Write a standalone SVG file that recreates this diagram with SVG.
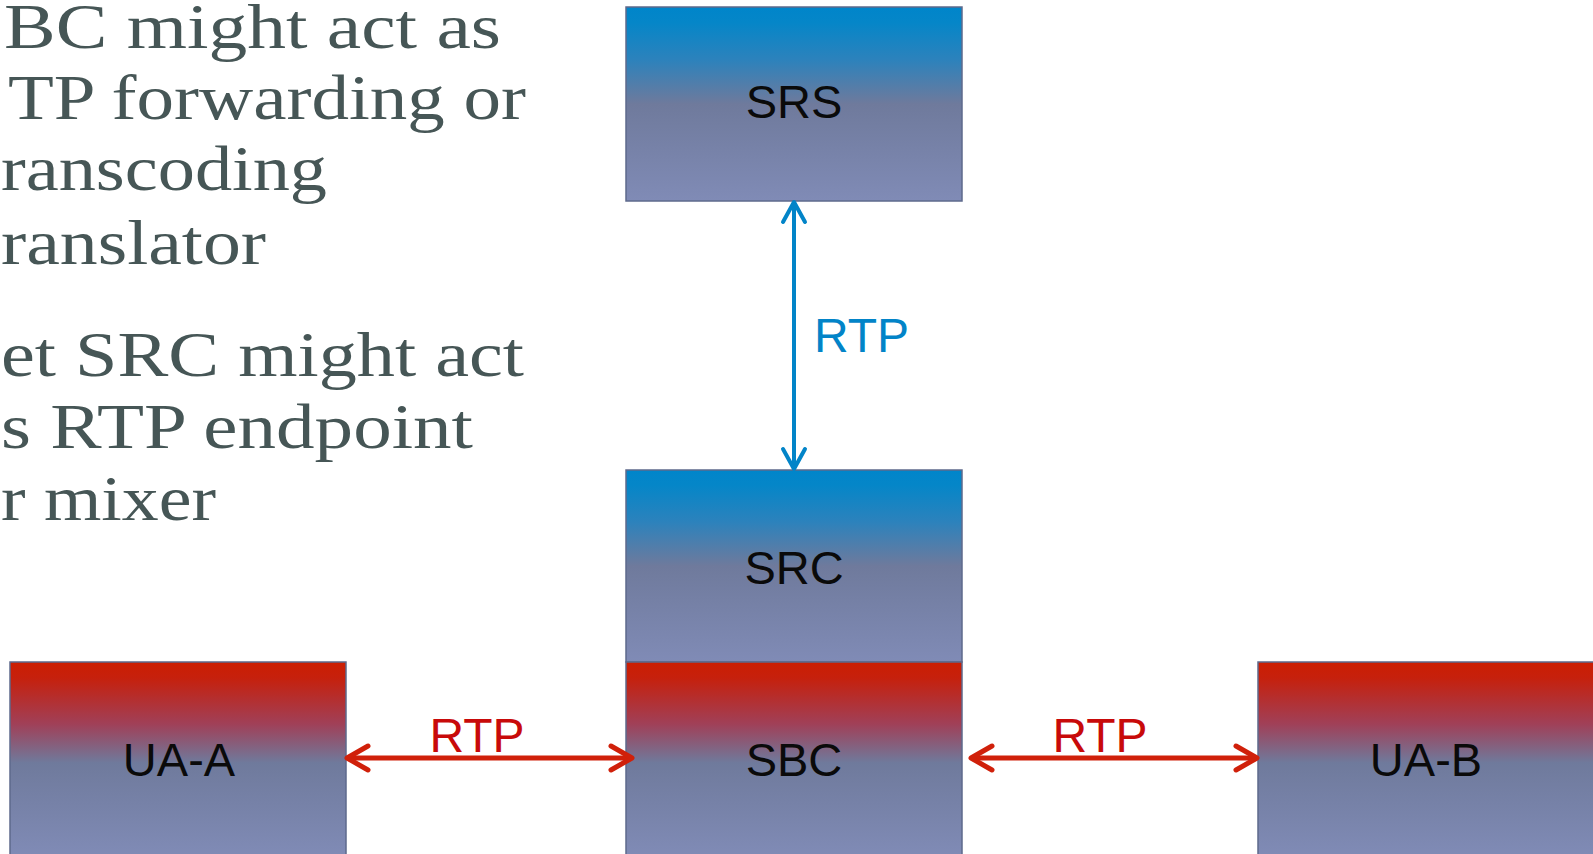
<svg xmlns="http://www.w3.org/2000/svg" width="1593" height="854" viewBox="0 0 1593 854">
  <style>
    .box { stroke: #5E6A8C; stroke-width: 1.5; }
    .lbl { font-family: "Liberation Sans", Arial, sans-serif; font-size: 47px; fill: #0A0A0A; text-anchor: middle; }
    .rtp { font-family: "Liberation Sans", Arial, sans-serif; font-size: 48px; }
    .note { font-family: "Liberation Serif", "Times New Roman", serif; font-size: 63px; fill: #465656; }
  </style>
  <defs>
    <linearGradient id="gBlue" x1="0" y1="0" x2="0" y2="1">
      <stop offset="0" stop-color="#0085CA"/>
      <stop offset="0.08" stop-color="#0586C8"/>
      <stop offset="0.27" stop-color="#2C82BC"/>
      <stop offset="0.5" stop-color="#6F7A9C"/>
      <stop offset="1" stop-color="#808BB6"/>
    </linearGradient>
    <linearGradient id="gRed" x1="0" y1="0" x2="0" y2="1">
      <stop offset="0" stop-color="#CC1E02"/>
      <stop offset="0.08" stop-color="#C6200C"/>
      <stop offset="0.32" stop-color="#A04058"/>
      <stop offset="0.52" stop-color="#6F7A9C"/>
      <stop offset="1" stop-color="#808BB6"/>
    </linearGradient>
    <marker id="headRed" markerUnits="userSpaceOnUse" viewBox="-26 -16 30 32" refX="0" refY="0" markerWidth="30" markerHeight="32" orient="auto-start-reverse" overflow="visible">
      <path d="M-21,-12 L0,0 L-21,12" fill="none" stroke="#D0200A" stroke-width="5" stroke-linecap="round" stroke-linejoin="round"/>
    </marker>
    <marker id="headBlue" markerUnits="userSpaceOnUse" viewBox="-26 -16 30 32" refX="0" refY="0" markerWidth="30" markerHeight="32" orient="auto-start-reverse" overflow="visible">
      <path d="M-20,-11 L0,0 L-20,11" fill="none" stroke="#0284C8" stroke-width="4" stroke-linecap="round" stroke-linejoin="round"/>
    </marker>
  </defs>

  <rect width="1593" height="854" fill="#FFFFFF"/>

  <!-- bullet text on the left -->
  <g id="notes" class="note">
    <text x="4" y="48" textLength="497" lengthAdjust="spacingAndGlyphs">BC might act as</text>
    <text x="8" y="119" textLength="518" lengthAdjust="spacingAndGlyphs">TP forwarding or</text>
    <text x="1" y="190" textLength="326" lengthAdjust="spacingAndGlyphs">ranscoding</text>
    <text x="1" y="264" textLength="265" lengthAdjust="spacingAndGlyphs">ranslator</text>
    <text x="1" y="376" textLength="523" lengthAdjust="spacingAndGlyphs">et SRC might act</text>
    <text x="1" y="448" textLength="472" lengthAdjust="spacingAndGlyphs">s RTP endpoint</text>
    <text x="1" y="520" textLength="215" lengthAdjust="spacingAndGlyphs">r mixer</text>
  </g>

  <g id="srs">
    <rect class="box" x="626" y="7" width="336" height="194" fill="url(#gBlue)"/>
    <text class="lbl" x="794" y="118">SRS</text>
  </g>

  <g id="src">
    <rect class="box" x="626" y="470" width="336" height="192" fill="url(#gBlue)"/>
    <text class="lbl" x="794" y="584">SRC</text>
  </g>

  <g id="sbc">
    <rect class="box" x="626" y="662" width="336" height="194" fill="url(#gRed)"/>
    <text class="lbl" x="794" y="776">SBC</text>
  </g>

  <g id="ua-a">
    <rect class="box" x="10" y="662" width="336" height="194" fill="url(#gRed)"/>
    <text class="lbl" x="179" y="776">UA-A</text>
  </g>

  <g id="ua-b">
    <rect class="box" x="1258" y="662" width="336" height="194" fill="url(#gRed)"/>
    <text class="lbl" x="1426" y="776">UA-B</text>
  </g>

  <g id="connectors">
    <line x1="794" y1="202" x2="794" y2="469" stroke="#0284C8" stroke-width="4" marker-start="url(#headBlue)" marker-end="url(#headBlue)"/>
    <text class="rtp" x="814" y="352" fill="#0284C8">RTP</text>

    <line x1="347" y1="758" x2="632" y2="758" stroke="#D0200A" stroke-width="5" marker-start="url(#headRed)" marker-end="url(#headRed)"/>
    <text class="rtp" x="477" y="752" fill="#C80A0A" text-anchor="middle">RTP</text>

    <line x1="971" y1="758" x2="1257" y2="758" stroke="#D0200A" stroke-width="5" marker-start="url(#headRed)" marker-end="url(#headRed)"/>
    <text class="rtp" x="1100" y="752" fill="#C80A0A" text-anchor="middle">RTP</text>
  </g>
</svg>
